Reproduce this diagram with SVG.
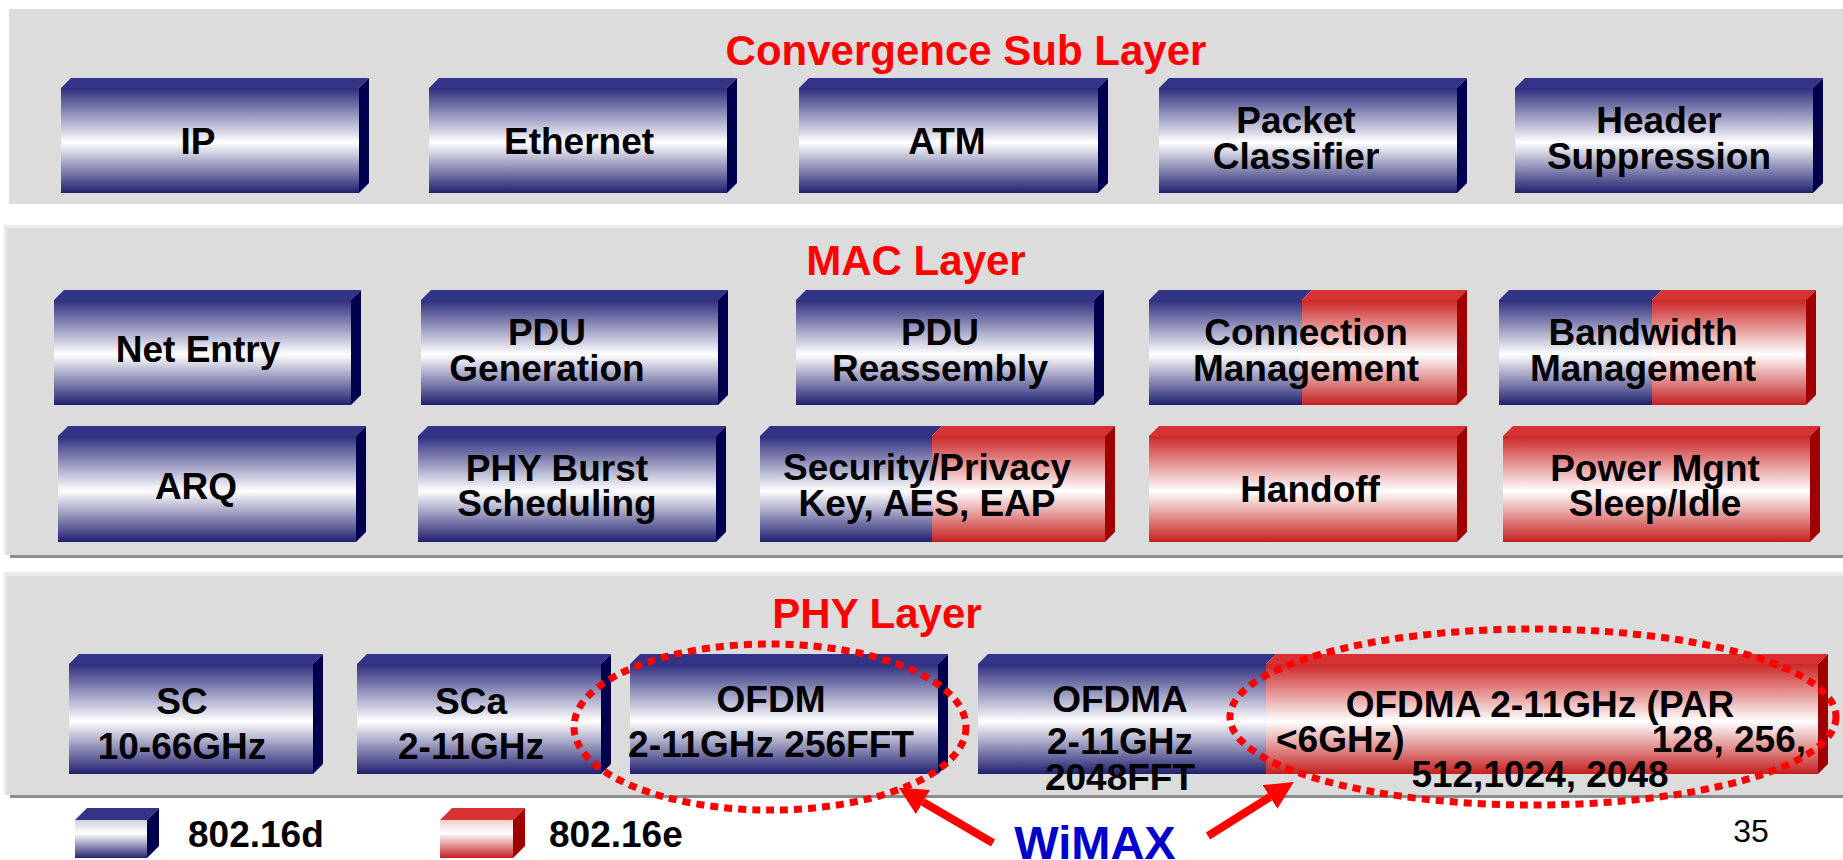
<svg xmlns="http://www.w3.org/2000/svg" width="1843" height="860" viewBox="0 0 1843 860">
  <defs>
    <!-- front-face shading: dark edge, white middle, dark edge -->
    <linearGradient id="frontBlue" x1="0" y1="0" x2="0" y2="1">
      <stop offset="0" stop-color="#2e2e7e"/>
      <stop offset="0.52" stop-color="#ffffff"/>
      <stop offset="1" stop-color="#202070"/>
    </linearGradient>
    <linearGradient id="frontRed" x1="0" y1="0" x2="0" y2="1">
      <stop offset="0" stop-color="#cc2626"/>
      <stop offset="0.52" stop-color="#ffffff"/>
      <stop offset="1" stop-color="#c42020"/>
    </linearGradient>
    <linearGradient id="legBlue" x1="0" y1="0" x2="0" y2="1">
      <stop offset="0" stop-color="#d0d0dc"/>
      <stop offset="0.35" stop-color="#ffffff"/>
      <stop offset="1" stop-color="#262672"/>
    </linearGradient>
    <linearGradient id="legRed" x1="0" y1="0" x2="0" y2="1">
      <stop offset="0" stop-color="#f2cccc"/>
      <stop offset="0.35" stop-color="#ffffff"/>
      <stop offset="1" stop-color="#c42020"/>
    </linearGradient>
    <marker id="head" markerUnits="userSpaceOnUse" markerWidth="28" markerHeight="28" refX="0" refY="14" orient="auto">
      <path d="M0,0 L28,14 L0,28 z" fill="#ff0000"/>
    </marker>
    <style>
      .fb { fill: url(#frontBlue); }
      .fr { fill: url(#frontRed); }
      .tb { fill: #333388; }
      .tr { fill: #d63232; }
      .sb { fill: #00004f; }
      .sr { fill: #a00000; }
      .lbl { font-family: "Liberation Sans", Arial, sans-serif; font-weight: bold; font-size: 37px; fill: #000; text-anchor: middle; }
      .ttl { font-family: "Liberation Sans", Arial, sans-serif; font-weight: bold; font-size: 42px; fill: #ff0000; text-anchor: middle; }
      .ring { fill: none; stroke: #ff0000; stroke-width: 7; stroke-dasharray: 8 6; }
      .arrow { stroke: #ff0000; stroke-width: 8; fill: none; marker-end: url(#head); }
    </style>
  </defs>

  <rect width="1843" height="860" fill="#ffffff"/>

  <!-- layer panels -->
  <g id="panel-cs">
    <rect x="9" y="9" width="1834" height="195" fill="#dcdcdc"/>
    <text class="ttl" x="966" y="65">Convergence Sub Layer</text>
  </g>
  <g id="panel-mac">
    <rect x="10" y="555" width="1833" height="3" fill="#8c8c8c"/>
    <rect x="4" y="225" width="1839" height="330" fill="#e9e9e9"/>
    <rect x="7" y="228" width="1836" height="327" fill="#dcdcdc"/>
    <text class="ttl" x="916" y="275">MAC Layer</text>
  </g>
  <g id="panel-phy">
    <rect x="10" y="795" width="1833" height="3" fill="#8c8c8c"/>
    <rect x="4" y="572" width="1839" height="223" fill="#e9e9e9"/>
    <rect x="7" y="576" width="1836" height="219" fill="#dcdcdc"/>
    <text class="ttl" x="877" y="628">PHY Layer</text>
  </g>

  <!-- Convergence sub layer blocks -->
  <g id="ip">
    <polygon class="tb" points="61,88 71,78 369,78 359,88"/>
    <polygon class="sb" points="359,88 369,78 369,183 359,193"/>
    <rect class="fb" x="61" y="88" width="298" height="105"/>
    <text class="lbl" x="198" y="154">IP</text>
  </g>
  <g id="ethernet">
    <polygon class="tb" points="429,88 439,78 737,78 727,88"/>
    <polygon class="sb" points="727,88 737,78 737,183 727,193"/>
    <rect class="fb" x="429" y="88" width="298" height="105"/>
    <text class="lbl" x="579" y="154">Ethernet</text>
  </g>
  <g id="atm">
    <polygon class="tb" points="799,88 809,78 1108,78 1098,88"/>
    <polygon class="sb" points="1098,88 1108,78 1108,183 1098,193"/>
    <rect class="fb" x="799" y="88" width="299" height="105"/>
    <text class="lbl" x="947" y="154">ATM</text>
  </g>
  <g id="packet-classifier">
    <polygon class="tb" points="1159,88 1169,78 1467,78 1457,88"/>
    <polygon class="sb" points="1457,88 1467,78 1467,183 1457,193"/>
    <rect class="fb" x="1159" y="88" width="298" height="105"/>
    <text class="lbl" x="1296" y="133">Packet</text>
    <text class="lbl" x="1296" y="169">Classifier</text>
  </g>
  <g id="header-suppression">
    <polygon class="tb" points="1515,88 1525,78 1823,78 1813,88"/>
    <polygon class="sb" points="1813,88 1823,78 1823,183 1813,193"/>
    <rect class="fb" x="1515" y="88" width="298" height="105"/>
    <text class="lbl" x="1659" y="133">Header</text>
    <text class="lbl" x="1659" y="169">Suppression</text>
  </g>

  <!-- MAC layer blocks, first row -->
  <g id="net-entry">
    <polygon class="tb" points="54,300 64,290 361,290 351,300"/>
    <polygon class="sb" points="351,300 361,290 361,395 351,405"/>
    <rect class="fb" x="54" y="300" width="297" height="105"/>
    <text class="lbl" x="198" y="362">Net Entry</text>
  </g>
  <g id="pdu-generation">
    <polygon class="tb" points="421,300 431,290 728,290 718,300"/>
    <polygon class="sb" points="718,300 728,290 728,395 718,405"/>
    <rect class="fb" x="421" y="300" width="297" height="105"/>
    <text class="lbl" x="547" y="345">PDU</text>
    <text class="lbl" x="547" y="381">Generation</text>
  </g>
  <g id="pdu-reassembly">
    <polygon class="tb" points="796,300 806,290 1104,290 1094,300"/>
    <polygon class="sb" points="1094,300 1104,290 1104,395 1094,405"/>
    <rect class="fb" x="796" y="300" width="298" height="105"/>
    <text class="lbl" x="940" y="345">PDU</text>
    <text class="lbl" x="940" y="381">Reassembly</text>
  </g>
  <g id="connection-management">
    <polygon class="tb" points="1149,300 1159,290 1312,290 1302,300"/>
    <polygon class="tr" points="1302,300 1312,290 1467,290 1457,300"/>
    <polygon class="sr" points="1457,300 1467,290 1467,395 1457,405"/>
    <rect class="fb" x="1149" y="300" width="153" height="105"/>
    <rect class="fr" x="1302" y="300" width="155" height="105"/>
    <text class="lbl" x="1306" y="345">Connection</text>
    <text class="lbl" x="1306" y="381">Management</text>
  </g>
  <g id="bandwidth-management">
    <polygon class="tb" points="1499,300 1509,290 1662,290 1652,300"/>
    <polygon class="tr" points="1652,300 1662,290 1816,290 1806,300"/>
    <polygon class="sr" points="1806,300 1816,290 1816,395 1806,405"/>
    <rect class="fb" x="1499" y="300" width="153" height="105"/>
    <rect class="fr" x="1652" y="300" width="154" height="105"/>
    <text class="lbl" x="1643" y="345">Bandwidth</text>
    <text class="lbl" x="1643" y="381">Management</text>
  </g>

  <!-- MAC layer blocks, second row -->
  <g id="arq">
    <polygon class="tb" points="58,436 68,426 366,426 356,436"/>
    <polygon class="sb" points="356,436 366,426 366,532 356,542"/>
    <rect class="fb" x="58" y="436" width="298" height="106"/>
    <text class="lbl" x="196" y="499">ARQ</text>
  </g>
  <g id="phy-burst-scheduling">
    <polygon class="tb" points="418,436 428,426 726,426 716,436"/>
    <polygon class="sb" points="716,436 726,426 726,532 716,542"/>
    <rect class="fb" x="418" y="436" width="298" height="106"/>
    <text class="lbl" x="557" y="481">PHY Burst</text>
    <text class="lbl" x="557" y="516">Scheduling</text>
  </g>
  <g id="security-privacy">
    <polygon class="tb" points="760,436 770,426 942,426 932,436"/>
    <polygon class="tr" points="932,436 942,426 1115,426 1105,436"/>
    <polygon class="sr" points="1105,436 1115,426 1115,532 1105,542"/>
    <rect class="fb" x="760" y="436" width="172" height="106"/>
    <rect class="fr" x="932" y="436" width="173" height="106"/>
    <text class="lbl" x="927" y="480">Security/Privacy</text>
    <text class="lbl" x="927" y="516">Key, AES, EAP</text>
  </g>
  <g id="handoff">
    <polygon class="tr" points="1149,436 1159,426 1467,426 1457,436"/>
    <polygon class="sr" points="1457,436 1467,426 1467,532 1457,542"/>
    <rect class="fr" x="1149" y="436" width="308" height="106"/>
    <text class="lbl" x="1310" y="502">Handoff</text>
  </g>
  <g id="power-management">
    <polygon class="tr" points="1503,436 1513,426 1820,426 1810,436"/>
    <polygon class="sr" points="1810,436 1820,426 1820,532 1810,542"/>
    <rect class="fr" x="1503" y="436" width="307" height="106"/>
    <text class="lbl" x="1655" y="481">Power Mgnt</text>
    <text class="lbl" x="1655" y="516">Sleep/Idle</text>
  </g>

  <!-- PHY layer blocks -->
  <g id="sc">
    <polygon class="tb" points="69,664 79,654 323,654 313,664"/>
    <polygon class="sb" points="313,664 323,654 323,764 313,774"/>
    <rect class="fb" x="69" y="664" width="244" height="110"/>
    <text class="lbl" x="182" y="714">SC</text>
    <text class="lbl" x="182" y="759">10-66GHz</text>
  </g>
  <g id="sca">
    <polygon class="tb" points="357,664 367,654 611,654 601,664"/>
    <polygon class="sb" points="601,664 611,654 611,764 601,774"/>
    <rect class="fb" x="357" y="664" width="244" height="110"/>
    <text class="lbl" x="471" y="714">SCa</text>
    <text class="lbl" x="471" y="759">2-11GHz</text>
  </g>
  <g id="ofdm">
    <polygon class="tb" points="630,664 640,654 948,654 938,664"/>
    <polygon class="sb" points="938,664 948,654 948,764 938,774"/>
    <rect class="fb" x="630" y="664" width="308" height="110"/>
    <text class="lbl" x="771" y="712">OFDM</text>
    <text class="lbl" x="771" y="757">2-11GHz 256FFT</text>
  </g>
  <g id="ofdma">
    <polygon class="tb" points="978,664 988,654 1276,654 1266,664"/>
    <polygon class="tr" points="1266,664 1276,654 1828,654 1818,664"/>
    <polygon class="sr" points="1818,664 1828,654 1828,764 1818,774"/>
    <rect class="fb" x="978" y="664" width="288" height="110"/>
    <rect class="fr" x="1266" y="664" width="552" height="110"/>
    <text class="lbl" x="1120" y="712">OFDMA</text>
    <text class="lbl" x="1120" y="754">2-11GHz</text>
    <text class="lbl" x="1120" y="790">2048FFT</text>
    <text class="lbl" x="1540" y="717">OFDMA 2-11GHz (PAR</text>
    <text class="lbl" x="1276" y="752" style="text-anchor:start">&lt;6GHz)</text>
    <text class="lbl" x="1806" y="752" style="text-anchor:end">128, 256,</text>
    <text class="lbl" x="1540" y="787">512,1024, 2048</text>
  </g>

  <!-- legend -->
  <g id="legend-d">
    <polygon class="tb" points="75,820 87,808 159,808 147,820"/>
    <polygon class="sb" points="147,820 159,808 159,846 147,858"/>
    <rect x="75" y="820" width="72" height="38" fill="url(#legBlue)"/>
    <text class="lbl" x="188" y="847" style="text-anchor:start">802.16d</text>
  </g>
  <g id="legend-e">
    <polygon class="tr" points="440,820 452,808 525,808 513,820"/>
    <polygon class="sr" points="513,820 525,808 525,846 513,858"/>
    <rect x="440" y="820" width="73" height="38" fill="url(#legRed)"/>
    <text class="lbl" x="549" y="847" style="text-anchor:start">802.16e</text>
  </g>

  <!-- WiMAX highlight rings and callout -->
  <g id="wimax">
    <ellipse class="ring" cx="770" cy="727" rx="196" ry="83"/>
    <ellipse class="ring" cx="1533" cy="717" rx="303" ry="88"/>
    <text x="1095" y="859" text-anchor="middle" font-family="Liberation Sans, Arial, sans-serif" font-weight="bold" font-size="47" fill="#0000cc">WiMAX</text>
  </g>

  <g id="connectors">
    <line class="arrow" x1="993" y1="843" x2="923" y2="802"/>
    <line class="arrow" x1="1208" y1="836" x2="1270" y2="797"/>
  </g>

  <text x="1751" y="842" text-anchor="middle" font-family="Liberation Sans, Arial, sans-serif" font-size="32" fill="#000">35</text>
</svg>
